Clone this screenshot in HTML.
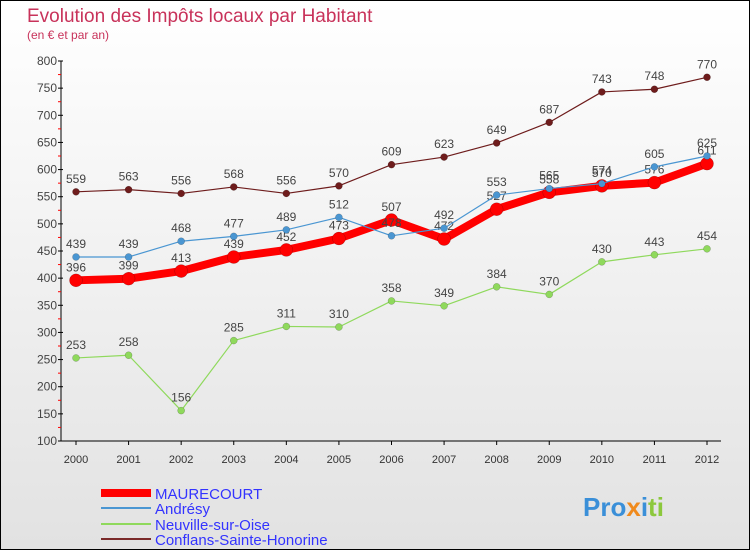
<!DOCTYPE html>
<html><head><meta charset="utf-8"><style>
body{margin:0;width:750px;height:550px;overflow:hidden;font-family:"Liberation Sans",sans-serif}
#wrap{position:relative;width:748px;height:548px;border:1px solid #000;background:linear-gradient(#fff,#e2e2e2)}
</style></head><body>
<div id="wrap">
<svg id="chart" width="748" height="548" font-family="Liberation Sans, sans-serif">
<text x="26" y="21" font-size="19" fill="#c8325a">Evolution des Impôts locaux par Habitant</text>
<text x="26" y="38" font-size="12" fill="#c8325a">(en € et par an)</text>
<g id="axes"></g><g id="series"></g>
<g>
<line x1="100" y1="492" x2="150" y2="492" stroke="#f00" stroke-width="8"/>
<text x="154" y="498" font-size="15" fill="#33f">MAURECOURT</text>
<line x1="100" y1="507" x2="150" y2="507" stroke="#4a96d2" stroke-width="2"/>
<text x="154" y="513" font-size="15" fill="#33f">Andrésy</text>
<line x1="100" y1="523" x2="150" y2="523" stroke="#8fd95c" stroke-width="2"/>
<text x="154" y="529" font-size="15" fill="#33f">Neuville-sur-Oise</text>
<line x1="100" y1="538" x2="150" y2="538" stroke="#7a2a2a" stroke-width="2"/>
<text x="154" y="544" font-size="15" fill="#33f">Conflans-Sainte-Honorine</text>
</g>
<text x="582" y="515" font-size="26" font-weight="bold"><tspan fill="#3a8fd8">Pro</tspan><tspan fill="#f08a1c">x</tspan><tspan fill="#3a8fd8">i</tspan><tspan fill="#8cc83c">ti</tspan></text>
</svg></div>
<script>
const years=[2000,2001,2002,2003,2004,2005,2006,2007,2008,2009,2010,2011,2012];
const yTicks=[100,150,200,250,300,350,400,450,500,550,600,650,700,750,800];
const maurecourt=[396,399,413,439,452,473,507,472,527,558,570,576,611];
const andresy=[439,439,468,477,489,512,478,492,553,565,574,605,625];
const neuville=[253,258,156,285,311,310,358,349,384,370,430,443,454];
const conflans=[559,563,556,568,556,570,609,623,649,687,743,748,770];
const NS="http://www.w3.org/2000/svg";
function xs(i){return 75+i*(706-75)/12;}
function ys(v){return 440-(v-100)*380/700;}
function mk(t,a,p){const e=document.createElementNS(NS,t);for(const k in a)e.setAttribute(k,a[k]);p.appendChild(e);return e;}
const ax=document.getElementById('axes');
const yl=mk('line',{x1:60,y1:60,x2:60,y2:440,stroke:'#000'},ax);


const xl=mk('line',{x1:60,y1:440,x2:720,y2:440,stroke:'#000'},ax);


yTicks.forEach(v=>{
 mk('line',{x1:57,y1:ys(v),x2:62,y2:ys(v),stroke:'#000'},ax);
 if(v<800)mk('line',{x1:57,y1:ys(v+25),x2:60,y2:ys(v+25),stroke:'#f00'},ax);
 const t=mk('text',{x:56,y:ys(v)+4,'font-size':12,fill:'#444','text-anchor':'end'},ax);t.textContent=v;
 
 
});
years.forEach((y,i)=>{
 mk('line',{x1:xs(i),y1:440,x2:xs(i),y2:444,stroke:'#000'},ax);
 const t=mk('text',{x:xs(i),y:462,'font-size':11,fill:'#333','text-anchor':'middle'},ax);t.textContent=y;
 
 
});
const sg=document.getElementById('series');
function draw(data,color,w,r,name){
 const g=mk('g',{},sg);
 
 
 const pl=mk('polyline',{points:data.map((v,i)=>xs(i)+','+ys(v)).join(' '),fill:'none',stroke:color,'stroke-width':w,'stroke-linejoin':'round'},g);
 
 
 data.forEach((v,i)=>{
  const c=mk('circle',{cx:xs(i),cy:ys(v),r:r,fill:color,stroke:'rgba(0,0,0,0.3)','stroke-width':0.5},g);
  
  
  const t=mk('text',{x:xs(i),y:ys(v)-9,'font-size':12,fill:'#444','text-anchor':'middle'},g);t.textContent=v;
  
  
 });
}
draw(conflans,'#6e1c1c',1.2,3.5,'conflans');
draw(neuville,'#8fd95c',1.2,3.5,'neuville');
draw(maurecourt,'#f00',8,6.5,'maurecourt');
draw(andresy,'#4a96d2',1.2,3.5,'andresy');
</script>
</body></html>
